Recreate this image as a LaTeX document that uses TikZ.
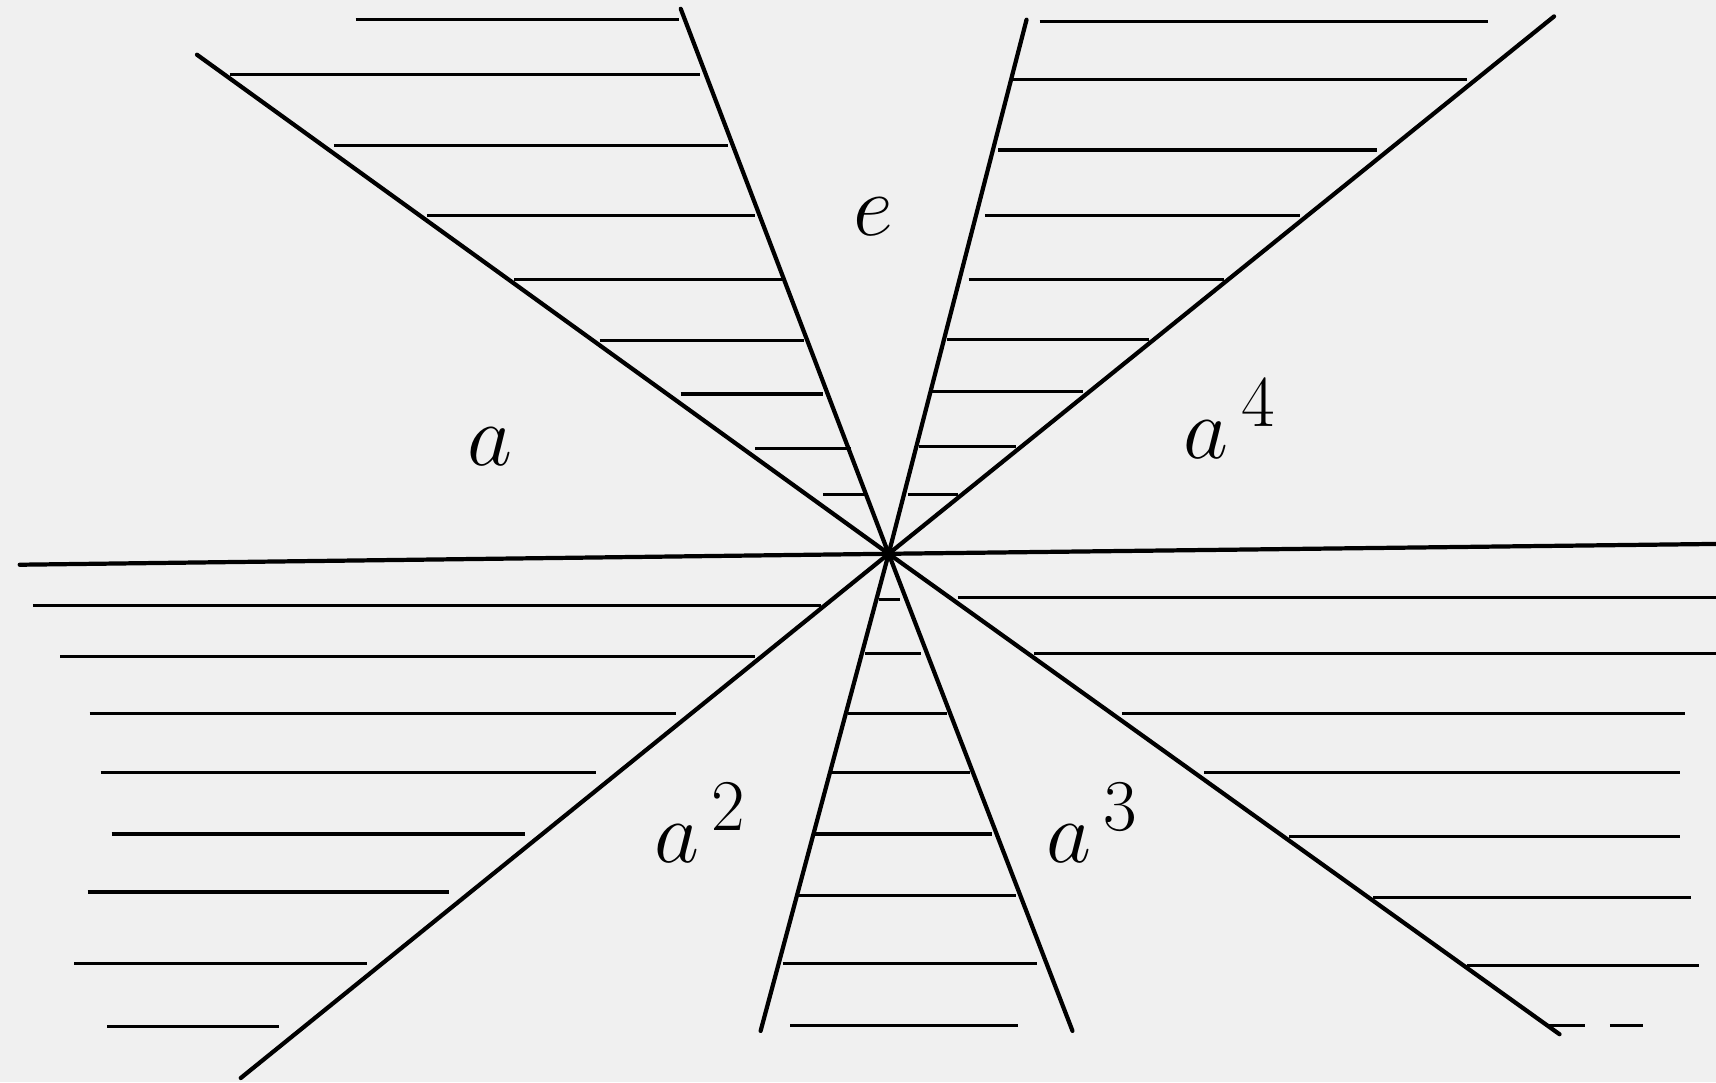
\documentclass[tikz,border=0pt]{standalone}
\usepackage{amsmath}
\usepackage{xcolor}
\usepackage{tikz}

\definecolor{paper}{gray}{0.94}

\begin{document}
\begin{tikzpicture}[x=0.010944cm, y=-0.010944cm,
    ray/.style={line width=1.2pt, line cap=round},
    hatch/.style={line width=0.9pt},
    elt/.style={inner sep=0pt, font=\fontsize{30}{36}\selectfont}]
    % paper
    \fill[paper] (0,0) rectangle (1568,989);
    \useasboundingbox (0,0) rectangle (1568,989);

    % centre and ray ends
    \coordinate (O) at (812,506);
    \coordinate (r1a) at (180,50);   \coordinate (r1b) at (1425,945);
    \coordinate (r2a) at (622,8);    \coordinate (r2b) at (980,942);
    \coordinate (r3a) at (938,18);   \coordinate (r3b) at (695,942);
    \coordinate (r4a) at (1420,15);  \coordinate (r4b) at (220,985);
    \coordinate (r5a) at (18,516);   \coordinate (r5b) at (1568,497);

    % rays through O
    \draw[ray] (r1a) -- (O) -- (r1b);
    \draw[ray] (r2a) -- (O) -- (r2b);
    \draw[ray] (r3a) -- (O) -- (r3b);
    \draw[ray] (r4a) -- (O) -- (r4b);
    \draw[ray] (r5a) -- (O) -- (r5b);

    % Hatching top left
    \foreach \y/\xa/\xb in {18/325/620, 68/210/640, 133/305/665, 197/390/690,
        255/470/715, 311/548/735, 360/622/752, 410/690/778, 452/752/792} {
        \draw[hatch] (\xa,\y) -- (\xb,\y);
    }

    % Hatching top right
    \foreach \y/\xa/\xb in {20/950/1360, 73/925/1340, 137/912/1258, 197/900/1188,
        255/885/1118, 310/865/1050, 358/850/990, 408/840/928, 452/830/875} {
        \draw[hatch] (\xa,\y) -- (\xb,\y);
    }

    % Hatching bottom left
    \foreach \y/\xa/\xb in {553/30/750, 600/55/690, 652/82/618, 706/92/545,
        762/102/480, 815/80/410, 880/68/335, 938/98/255} {
        \draw[hatch] (\xa,\y) -- (\xb,\y);
    }

    % Hatching bottom middle
    \foreach \y/\xa/\xb in {548/803/822, 597/790/842, 652/775/865, 706/758/886,
        762/745/906, 818/730/928, 880/715/948, 937/722/930} {
        \draw[hatch] (\xa,\y) -- (\xb,\y);
    }

    % Hatching bottom right
    \foreach \y/\xa/\xb in {546/875/1568, 597/945/1568, 652/1025/1540, 706/1100/1535,
        764/1178/1535, 820/1255/1545, 882/1340/1552, 937/1414/1448, 937/1471/1501} {
        \draw[hatch] (\xa,\y) -- (\xb,\y);
    }

    % group elements
    \node[elt] (e)  at (798,198) {$e$};
    \node[elt] (a1) at (448,408) {$a$};
    \node[elt] (a2) at (640,752) {$a^{\,2}$};
    \node[elt] (a3) at (998,752) {$a^{\,3}$};
    \node[elt] (a4) at (1124,383) {$a^{\,4}$};
\end{tikzpicture}
\end{document}
